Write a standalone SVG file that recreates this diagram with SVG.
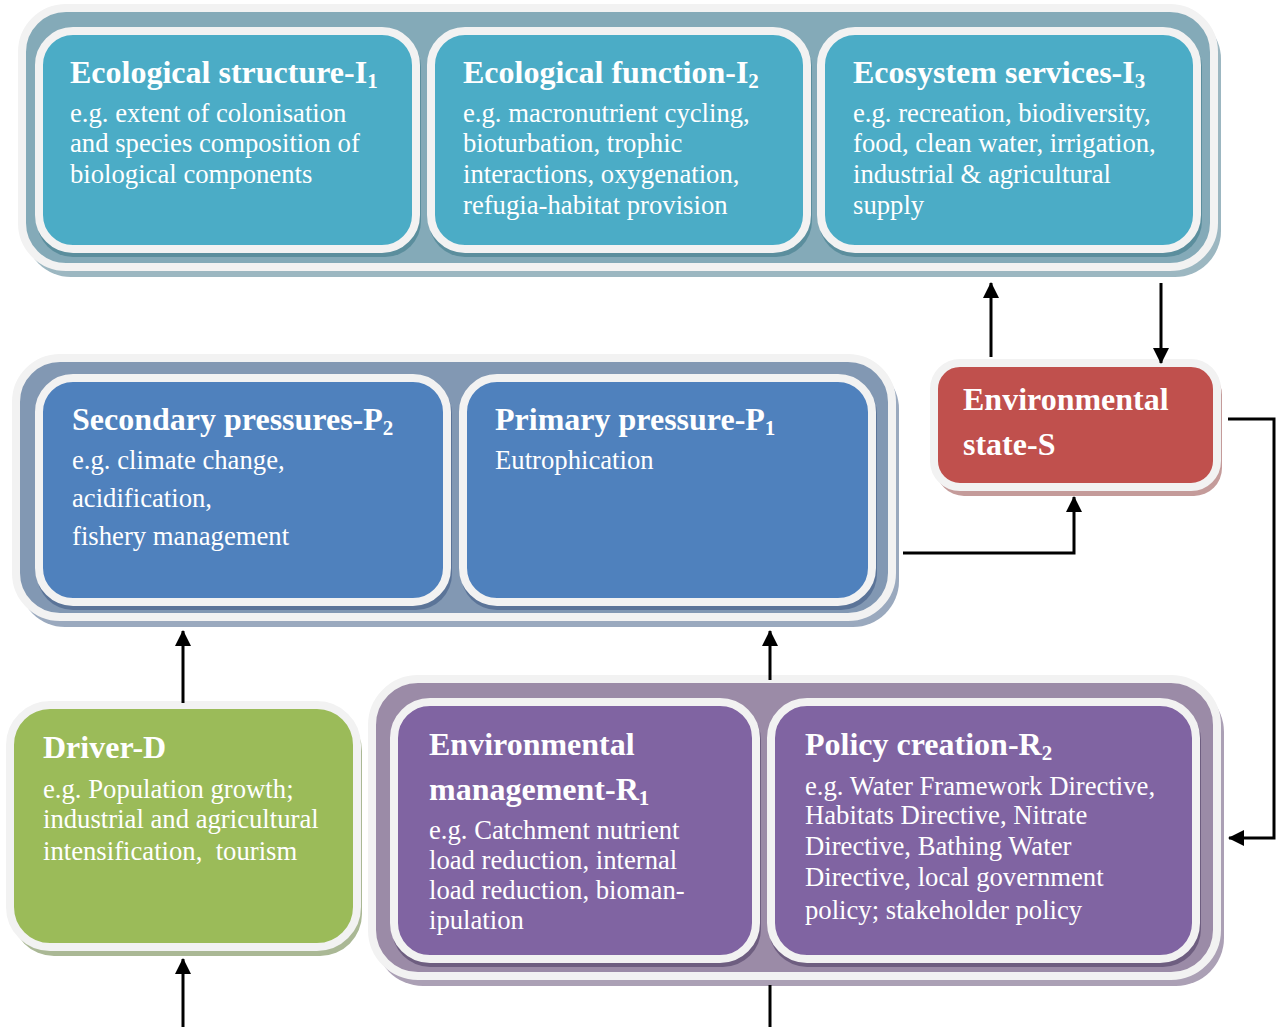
<svg xmlns="http://www.w3.org/2000/svg" width="1278" height="1027" viewBox="0 0 1278 1027">
  <defs>
    <style>
      .rim { stroke: #F2F2F2; stroke-width: 8; }
      .t { font-family: "Liberation Serif", "Times New Roman", serif; fill: #FFFFFF; }
      .h { font-size: 32px; font-weight: bold; }
      .b { font-size: 26.7px; }
      .sub { font-size: 21px; }
      .wire { fill: none; stroke: #000000; stroke-width: 3; }
      .teal-wrap { fill: #84AAB8; }
      .teal { fill: #4BACC6; }
      .teal-sh { fill: #5B8E9D; }
      .blue-wrap { fill: #8298B3; }
      .blue { fill: #4F81BD; }
      .blue-sh { fill: #5B7498; }
      .plum-wrap { fill: #9B8BA7; }
      .plum { fill: #8064A2; }
      .plum-sh { fill: #6E5E80; }
    </style>
    <marker id="head" viewBox="0 0 16 16" refX="15" refY="8" markerWidth="16" markerHeight="16" markerUnits="userSpaceOnUse" orient="auto">
      <path d="M0,0 L16,8 L0,16 Z" fill="#000000"/>
    </marker>
  </defs>

  <!-- Impact group: I1, I2, I3 -->
  <g id="impact-group">
    <rect x="25" y="13" width="1196" height="264" rx="46" fill="#9CB7C1"/>
    <rect class="rim teal-wrap" x="22" y="8" width="1192" height="259" rx="44"/>
  </g>
  <g id="node-I1">
    <rect class="teal-sh" x="37" y="31" width="384" height="226" rx="36"/>
    <rect class="rim teal" x="39" y="31" width="377" height="218" rx="34"/>
    <text class="t h" x="70" y="83">Ecological structure-I<tspan class="sub" dy="5">1</tspan></text>
    <text class="t b" x="70" y="122">e.g. extent of colonisation</text>
    <text class="t b" x="70" y="152">and species composition of</text>
    <text class="t b" x="70" y="183">biological components</text>
  </g>
  <g id="node-I2">
    <rect class="teal-sh" x="429" y="31" width="383" height="226" rx="36"/>
    <rect class="rim teal" x="431" y="31" width="376" height="218" rx="34"/>
    <text class="t h" x="463" y="83">Ecological function-I<tspan class="sub" dy="5">2</tspan></text>
    <text class="t b" x="463" y="122">e.g. macronutrient cycling,</text>
    <text class="t b" x="463" y="152">bioturbation, trophic</text>
    <text class="t b" x="463" y="183">interactions, oxygenation,</text>
    <text class="t b" x="463" y="214">refugia-habitat provision</text>
  </g>
  <g id="node-I3">
    <rect class="teal-sh" x="819" y="31" width="383" height="226" rx="36"/>
    <rect class="rim teal" x="821" y="31" width="376" height="218" rx="34"/>
    <text class="t h" x="853" y="83">Ecosystem services-I<tspan class="sub" dy="5">3</tspan></text>
    <text class="t b" x="853" y="122">e.g. recreation, biodiversity,</text>
    <text class="t b" x="853" y="152">food, clean water, irrigation,</text>
    <text class="t b" x="853" y="183">industrial &amp; agricultural</text>
    <text class="t b" x="853" y="214">supply</text>
  </g>

  <!-- Pressure group: P2, P1 -->
  <g id="pressure-group">
    <rect x="19" y="363" width="880" height="264" rx="46" fill="#9AA9BE"/>
    <rect class="rim blue-wrap" x="16" y="358" width="876" height="259" rx="44"/>
  </g>
  <g id="node-P2">
    <rect class="blue-sh" x="37" y="378" width="415" height="232" rx="36"/>
    <rect class="rim blue" x="39" y="378" width="408" height="224" rx="34"/>
    <text class="t h" x="72" y="430">Secondary pressures-P<tspan class="sub" dy="5">2</tspan></text>
    <text class="t b" x="72" y="469">e.g. climate change,</text>
    <text class="t b" x="72" y="507">acidification,</text>
    <text class="t b" x="72" y="545">fishery management</text>
  </g>
  <g id="node-P1">
    <rect class="blue-sh" x="461" y="378" width="416" height="232" rx="36"/>
    <rect class="rim blue" x="463" y="378" width="409" height="224" rx="34"/>
    <text class="t h" x="495" y="430">Primary pressure-P<tspan class="sub" dy="5">1</tspan></text>
    <text class="t b" x="495" y="469">Eutrophication</text>
  </g>

  <!-- State -->
  <g id="node-S">
    <rect x="936" y="367" width="286" height="129" rx="28" fill="#C49B9A"/>
    <rect class="rim" x="934" y="363" width="283" height="124" rx="26" fill="#C0504D"/>
    <text class="t h" x="963" y="410">Environmental</text>
    <text class="t h" x="963" y="455">state-S</text>
  </g>

  <!-- Driver -->
  <g id="node-D">
    <rect x="12" y="709" width="350" height="247" rx="42" fill="#AAB895"/>
    <rect class="rim" x="10" y="705" width="347" height="242" rx="40" fill="#9BBB59"/>
    <text class="t h" x="43" y="758">Driver-D</text>
    <text class="t b" x="43" y="798">e.g. Population growth;</text>
    <text class="t b" x="43" y="828">industrial and agricultural</text>
    <text class="t b" x="43" y="860">intensification,&#160; tourism</text>
  </g>

  <!-- Response group: R1, R2 -->
  <g id="response-group">
    <rect x="375" y="684" width="849" height="302" rx="48" fill="#ABA0B5"/>
    <rect class="rim plum-wrap" x="372" y="679" width="845" height="297" rx="46"/>
  </g>
  <g id="node-R1">
    <rect class="plum-sh" x="392" y="702" width="369" height="265" rx="38"/>
    <rect class="rim plum" x="394" y="702" width="362" height="257" rx="36"/>
    <text class="t h" x="429" y="755">Environmental</text>
    <text class="t h" x="429" y="800">management-R<tspan class="sub" dy="5">1</tspan></text>
    <text class="t b" x="429" y="839">e.g. Catchment nutrient</text>
    <text class="t b" x="429" y="869">load reduction, internal</text>
    <text class="t b" x="429" y="899">load reduction, bioman-</text>
    <text class="t b" x="429" y="929">ipulation</text>
  </g>
  <g id="node-R2">
    <rect class="plum-sh" x="769" y="702" width="432" height="265" rx="38"/>
    <rect class="rim plum" x="771" y="702" width="425" height="257" rx="36"/>
    <text class="t h" x="805" y="755">Policy creation-R<tspan class="sub" dy="5">2</tspan></text>
    <text class="t b" x="805" y="795">e.g. Water Framework Directive,</text>
    <text class="t b" x="805" y="824">Habitats Directive, Nitrate</text>
    <text class="t b" x="805" y="855">Directive, Bathing Water</text>
    <text class="t b" x="805" y="886">Directive, local government</text>
    <text class="t b" x="805" y="919">policy; stakeholder policy</text>
  </g>

  <!-- Connectors -->
  <g id="connectors">
    <path class="wire" d="M991,357 V283" marker-end="url(#head)"/>
    <path class="wire" d="M1161,283 V363" marker-end="url(#head)"/>
    <path class="wire" d="M1228,419 H1274 V838 H1229" marker-end="url(#head)"/>
    <path class="wire" d="M903,553 H1074 V497" marker-end="url(#head)"/>
    <path class="wire" d="M183,703 V631" marker-end="url(#head)"/>
    <path class="wire" d="M183,1027 V959" marker-end="url(#head)"/>
    <path class="wire" d="M770,680 V631" marker-end="url(#head)"/>
    <path class="wire" d="M770,985 V1027"/>
  </g>
</svg>
